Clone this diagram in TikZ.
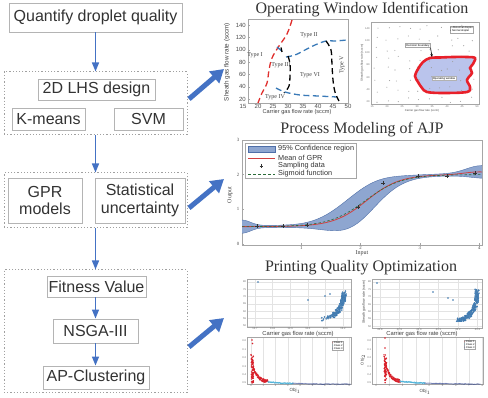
\documentclass[tikz,border=0pt]{standalone}
\usepackage{fontspec}
\setmainfont{Liberation Sans}
\newfontfamily\seriffont{Liberation Serif}
\usetikzlibrary{arrows.meta}
\definecolor{arrowblue}{HTML}{4472C4}
\definecolor{boxgray}{HTML}{B4B4B4}
\definecolor{dotgray}{HTML}{A0A0A0}
\definecolor{txt}{HTML}{333333}
\definecolor{curvered}{HTML}{E0302E}
\definecolor{curveblue}{HTML}{3A7AB8}
\definecolor{bandfill}{HTML}{8EA6D0}
\definecolor{bandline}{HTML}{4F6FA8}
\definecolor{blobfill}{HTML}{BAC4EC}
\definecolor{blobred}{HTML}{E8202A}
\definecolor{scatblue}{HTML}{2B6CA8}
\definecolor{cyanpt}{HTML}{4FB3D9}
\definecolor{navypt}{HTML}{2B3F8C}
\definecolor{redpt}{HTML}{D9202A}
\definecolor{meanred}{HTML}{D04040}
\definecolor{sigreen}{HTML}{3C9A50}
\begin{document}
\begin{tikzpicture}[x=1pt,y=-1pt,
  box/.style={draw=boxgray, line width=0.9pt, fill=white, inner sep=0pt, align=center,
    font=\fontsize{16}{17.5}\selectfont, text=txt},
  grp/.style={draw=dotgray, line width=1pt, dash pattern=on 1.2pt off 2pt, inner sep=0pt},
  flow/.style={draw=arrowblue, line width=1.3pt, -{Triangle[length=9pt,width=7pt]}},
  bigarrow/.style={draw=arrowblue, line width=5pt, -{Triangle[length=13pt,width=15pt]}},
  title/.style={font=\seriffont\fontsize{16}{18}\selectfont, text=txt},
  tick/.style={font=\fontsize{6}{6}\selectfont, text=black!70, inner sep=0.5pt},
  stick/.style={font=\seriffont\fontsize{4.8}{5}\selectfont, text=black!70, inner sep=0.5pt},
  tiny/.style={font=\fontsize{2.6}{3}\selectfont, text=black!60, inner sep=0.3pt},
  dashcurve/.style={line width=1.3pt, dash pattern=on 6pt off 3.5pt},
  typelbl/.style={font=\seriffont\fontsize{6}{6}\selectfont, text=black!75, inner sep=0pt},
  frame/.style={draw=gray!70, line width=0.4pt},
  grid4/.style={draw=gray!22, line width=0.3pt},
  declare function={
    gm(\x)=0.5+1.5/(1+exp(-3.6*(\x-2.1)))+0.08*exp(-((\x-4)/0.35)*((\x-4)/0.35));
    gw(\x)=0.03+0.16*exp(-(\x/0.2)*(\x/0.2))+0.42*exp(-((\x-1.95)/0.6)*((\x-1.95)/0.6))+0.15*exp(-((\x-4.05)/0.35)*((\x-4.05)/0.35));
    gs(\x)=0.5+1.5/(1+exp(-3.3*(\x-2.08)));
    px(\x)=242+59.3*\x;
    py(\x)=244-34.7*\x;
  }]
\useasboundingbox (0,0) rectangle (488,398);
\fill[white] (0,0) rectangle (488,398);

%% ---------------- left flow ----------------
\node[grp, minimum width=183pt, minimum height=63pt] (g1) at (95.5,103.5) {};
\node[grp, minimum width=183pt, minimum height=55pt] (g2) at (95.5,200.5) {};
\node[grp, minimum width=183pt, minimum height=123pt] (g3) at (95.5,331.5) {};

\node[box, minimum width=173pt, minimum height=29pt] (q) at (95.5,17.5) {Quantify droplet quality};
\node[box, minimum width=117pt, minimum height=21pt] (lhs) at (96.5,89.5) {2D LHS design};
\node[box, minimum width=73pt, minimum height=22pt] (km) at (48.5,119) {K-means};
\node[box, minimum width=69pt, minimum height=22pt] (svm) at (148.5,119) {SVM};
\node[box, minimum width=74pt, minimum height=45pt] (gpr) at (45,200.5) {GPR\\models};
\node[box, minimum width=90pt, minimum height=45pt] (stat) at (140,200.5) {Statistical\\uncertainty};
\node[box, minimum width=99pt, minimum height=21pt] (fit) at (96.5,286.5) {Fitness Value};
\node[box, minimum width=85pt, minimum height=24pt] (nsga) at (95.5,331) {NSGA-III};
\node[box, minimum width=106pt, minimum height=23pt] (ap) at (96,377.5) {AP-Clustering};

\draw[flow] (q.south) -- (g1.north);
\draw[flow] (g1.south) -- (g2.north);
\draw[flow] (g2.south) -- (g3.north);
\draw[flow] (fit.south -| nsga.north) -- (nsga.north);
\draw[flow] (nsga.south) -- (nsga.south |- ap.north);

\coordinate (a1s) at (189,99);  \coordinate (a1e) at (224,69);
\coordinate (a2s) at (189,208); \coordinate (a2e) at (224,179);
\coordinate (a3s) at (189,347); \coordinate (a3e) at (224,318);
\draw[bigarrow] (a1s) -- (a1e);
\draw[bigarrow] (a2s) -- (a2e);
\draw[bigarrow] (a3s) -- (a3e);

%% ---------------- titles ----------------
\node[title] (t1) at (362,10) {Operating Window Identification};
\node[title] (t2) at (362,130) {Process Modeling of AJP};
\node[title] (t3) at (361,268) {Printing Quality Optimization};

%% ---------------- plot 1 ----------------
\draw[frame] (248,19) rectangle (348,103);
\foreach \v in {20,40,...,140}{
  \draw[gray!70, line width=0.3pt] (248,{99-(\v-20)*0.6167}) -- (249.5,{99-(\v-20)*0.6167});
  \node[tick, anchor=east] at (246.5,{99-(\v-20)*0.6167}) {\v};}
\foreach \v in {15,20,...,50}{
  \node[tick, anchor=north] at ({258+(\v-20)*3},103.5) {\v};}
\node[font=\fontsize{5.6}{6}\selectfont, text=black!75] at (297,112.5) {Carrier gas flow rate (sccm)};
\node[font=\fontsize{6.3}{6.5}\selectfont, text=black!75, rotate=90] at (227,62) {Sheath gas flow rate (sccm)};

\draw[curvered, dashcurve] plot[smooth, tension=0.6] coordinates {(292,20) (287,34) (279,46) (272,58) (269,70) (267,83) (262,93) (258,103)};
\draw[curveblue, dashcurve] (277,47) -- (283,52);
\draw[black, line width=1.3pt] (281,47.5) -- (282,52);
\draw[curveblue, dashcurve] plot[smooth, tension=0.6] coordinates {(286,57) (295,55) (305,50) (315,45) (326,41) (335,41) (347,40)};
\draw[black, dashcurve] plot[smooth, tension=0.6] coordinates {(288,56) (290,64) (290,75) (289,86) (284,93)};
\draw[curveblue, dashcurve] plot[smooth, tension=0.6] coordinates {(276,88) (285,92) (300,95) (318,96) (337,97)};
\draw[black, dashcurve] plot[smooth, tension=0.6] coordinates {(326,41) (331,50) (332,65) (333,80) (335,92) (339,101)};
\node[typelbl] at (255,55) {Type I};
\node[typelbl] at (309,35) {Type II};
\node[typelbl] at (281,65) {Type III};
\node[typelbl] at (310,75) {Type VI};
\node[typelbl] at (275,97) {Type IV};
\node[typelbl, rotate=90] at (342,65) {Type V};

%% ---------------- plot 2 ----------------
\draw[frame] (371,22) rectangle (479,104);
\foreach \v [count=\k from 0] in {20,40,...,140}{
  \node[tiny, anchor=east] at (370,{102-\k*12.3}) {\v};}
\foreach \v [count=\k from 0] in {15,20,...,50}{
  \node[tiny, anchor=north] at ({372+\k*15},105) {\v};}
\node[font=\fontsize{2.8}{3}\selectfont, text=black!70] at (422,111) {Carrier gas flow rate (sccm)};
\node[font=\fontsize{3}{3}\selectfont, text=black!70, rotate=90] at (362,63) {Sheath gas flow rate (sccm)};
\fill[blobfill] plot[smooth cycle, tension=0.55] coordinates {(430,58) (440,57.5) (453,57) (467,57) (475,58) (473,64) (470,68) (472,73) (467,80) (470,87) (467,92) (443,93) (427,92) (422,88) (418,82) (415,76) (418,69) (423,62)};
\pgfmathsetseed{11}
\foreach \i in {0,...,9}{
  \foreach \j in {0,...,7}{
    \pgfmathsetmacro\dx{376+\i*10.6+3*rand}
    \pgfmathsetmacro\dy{28+\j*10.3+3*rand}
    \fill[gray!75] (\dx,\dy) circle (0.55pt);}}
\draw[blobred, line width=2.6pt] plot[smooth cycle, tension=0.55] coordinates {(430,58) (440,57.5) (453,57) (467,57) (475,58) (473,64) (470,68) (472,73) (467,80) (470,87) (467,92) (443,93) (427,92) (422,88) (418,82) (415,76) (418,69) (423,62)};
\node[draw=gray!70, fill=white, line width=0.3pt, font=\fontsize{2.6}{3}\selectfont, inner sep=0.6pt, align=left] (leg2) at (461.5,29.5) {+ Abnormal droplet\\\textbullet{} Normal droplet};
\node[draw=gray!70, fill=white, line width=0.3pt, font=\fontsize{2.8}{3}\selectfont, inner sep=0.8pt] (bnd) at (418,45.5) {Decision boundary};
\node[draw=gray!60, fill=white, line width=0.3pt, font=\fontsize{2.8}{3}\selectfont, inner sep=0.8pt] (opw) at (444,78.5) {Operating window};
\coordinate (bndtip) at (432,57);
\draw[black, line width=0.6pt, -{Stealth[length=3pt,width=2.5pt]}] (bnd.south east) -- (bndtip);

%% ---------------- plot 3 ----------------
\draw[frame] (242,140) rectangle (482,245);
\foreach \v in {0,1,2,3}{
  \draw[gray!70, line width=0.3pt] (242,{py(\v)}) -- (244,{py(\v)});
  \node[stick, anchor=east] at (240,{py(\v)}) {\v};}
\foreach \v in {1,2,3,4}{
  \draw[gray!70, line width=0.3pt] ({px(\v)},245) -- ({px(\v)},243);
  \node[stick, anchor=north] at ({px(\v)},245.5) {\v};}
\node[font=\seriffont\fontsize{6}{6}\selectfont, text=black!75] at (362,253) {Input};
\node[font=\seriffont\fontsize{6}{6}\selectfont, text=black!75, rotate=90] at (230,195) {Output};
\fill[bandfill] plot[domain=0:4.05, samples=90] ({px(\x)},{py(gm(\x)+gw(\x))}) -- plot[domain=4.05:0, samples=90] ({px(\x)},{py(gm(\x)-gw(\x))}) -- cycle;
\draw[bandline, line width=0.4pt] plot[domain=0:4.05, samples=90] ({px(\x)},{py(gm(\x)+gw(\x))});
\draw[bandline, line width=0.4pt] plot[domain=0:4.05, samples=90] ({px(\x)},{py(gm(\x)-gw(\x))});
\draw[meanred, line width=0.8pt] plot[domain=0:4.05, samples=90] ({px(\x)},{py(gm(\x))});
\draw[sigreen!70!black, line width=0.6pt, dash pattern=on 2.5pt off 2pt] plot[domain=0:4.05, samples=90] ({px(\x)},{py(gs(\x))});
\foreach \a/\b in {0.25/0.52, 0.69/0.52, 1.10/0.55, 1.96/1.07, 2.38/1.76, 2.97/1.96, 3.46/1.96, 3.93/2.05}{
  \draw[black!80, line width=0.5pt] ({px(\a)-1.8},{py(\b)}) -- ({px(\a)+1.8},{py(\b)})
    ({px(\a)},{py(\b)-1.8}) -- ({px(\a)},{py(\b)+1.8});}
\draw[gray!70, fill=white, line width=0.4pt] (245,143) rectangle (356,178);
\draw[bandline, fill=bandfill, line width=0.4pt] (248,146) rectangle (275,152);
\draw[meanred, line width=0.8pt] (248,158) -- (275,158);
\draw[black!80, line width=0.5pt] (259.7,166) -- (263.3,166) (261.5,164.2) -- (261.5,167.8);
\draw[sigreen!70!black, line width=0.6pt, dash pattern=on 3pt off 2pt] (248,174) -- (275,174);
\foreach \yy/\tt in {149/95\% Confidence region, 158/Mean of GPR, 166/Sampling data, 174/Sigmoid function}{
  \node[font=\fontsize{7.3}{7.5}\selectfont, text=txt, anchor=west, inner sep=0pt] at (278,\yy) {\tt};}

%% ---------------- plot 4: top-left scatter ----------------
\foreach \k in {0,...,5}{\draw[grid4] ({255+\k*17.6},279) -- ({255+\k*17.6},327);}
\foreach \k in {0,...,6}{\draw[grid4] (247,{282+\k*7.3}) -- (351,{282+\k*7.3});}
\draw[frame] (247,279) rectangle (351,327);
\foreach \v [count=\k from 0] in {80,75,70,65,60,55,50}{\node[tiny, anchor=east] at (246.5,{282+\k*7.3}) {\v};}
\foreach \v [count=\k from 0] in {12.7,12.8,12.9,13.0,13.1,13.2}{\node[tiny, anchor=north] at ({255+\k*17.6},327.5) {\v};}
\node[font=\fontsize{5.8}{6}\selectfont, text=black!75] at (298,334) {Carrier gas flow rate (sccm)};
\pgfmathsetseed{7}
\foreach \i in {1,...,240}{
  \pgfmathsetmacro\tt{sqrt(rnd)}
  \pgfmathsetmacro\ax{321+23*sin(90*\tt)+2.2*rand}
  \pgfmathsetmacro\ay{293+26*cos(90*\tt)+2*rand}
  \draw[scatblue, line width=0.2pt, fill=scatblue!55] (\ax,\ay) circle (0.7pt);}
\foreach \ax/\ay in {258/282, 308/300, 330/294, 325/296}{\draw[scatblue, line width=0.2pt, fill=scatblue!45] (\ax,\ay) circle (0.7pt);}

%% ---------------- plot 4: top-right scatter ----------------
\foreach \k in {0,...,5}{\draw[grid4] ({380+\k*19.5},279) -- ({380+\k*19.5},328);}
\foreach \k in {0,...,6}{\draw[grid4] (372,{282+\k*7.4}) -- (482,{282+\k*7.4});}
\draw[frame] (372,279) rectangle (482,328);
\foreach \v [count=\k from 0] in {80,75,70,65,60,55,50}{\node[tiny, anchor=east] at (371.5,{282+\k*7.4}) {\v};}
\foreach \v [count=\k from 0] in {42.8,42.9,43.0,43.1,43.2,43.3}{\node[tiny, anchor=north] at ({380+\k*19.5},328.5) {\v};}
\node[font=\fontsize{5.8}{6}\selectfont, text=black!75] at (422,334) {Carrier gas flow rate (sccm)};
\node[font=\fontsize{3.5}{4}\selectfont, text=black!75, rotate=90] at (364,302) {Sheath gas flow rate (sccm)};
\pgfmathsetseed{5}
\foreach \i in {1,...,260}{
  \pgfmathsetmacro\tt{rnd}
  \pgfmathsetmacro\bx{458+19*sin(100*\tt)+2*rand}
  \pgfmathsetmacro\by{294+26*cos(100*\tt)+1.8*rand}
  \draw[scatblue, line width=0.2pt, fill=scatblue!55] (\bx,\by) circle (0.7pt);}
\foreach \bx/\by in {377/283, 433/292, 448/298, 453/300}{\draw[scatblue, line width=0.2pt, fill=scatblue!45] (\bx,\by) circle (0.7pt);}

%% ---------------- plot 4: bottom-left ----------------
\foreach \k in {0,...,8}{\draw[grid4] ({251+\k*12.3},337) -- ({251+\k*12.3},384);}
\draw[frame] (247,337) rectangle (351,384);
\foreach \v [count=\k from 0] in {0,1,2,3,4,5,6,7,8}{\node[tiny, anchor=north] at ({251+\k*12.3},384.5) {\v};}
\foreach \k in {0,...,5}{\node[tiny, anchor=east] at (246.5,{341+\k*8.4}) {0.\k};}
\node[font=\fontsize{4.5}{5}\selectfont, text=black!75] at (295,391) {Obj$_1$};
\pgfmathsetseed{3}
\foreach \i in {1,...,60}{
  \pgfmathsetmacro\cx{251.3+2.2*rnd}
  \pgfmathsetmacro\cy{355+28*rnd}
  \fill[redpt] (\cx,\cy) circle (0.8pt);}
\fill[redpt] (252,340) circle (0.8pt) (252.5,343.5) circle (0.8pt);
\foreach \i in {0,...,80}{
  \pgfmathsetmacro\cx{251+\i*0.21}
  \pgfmathsetmacro\cy{384.5-24*exp(-(\cx-251)/4)-5*exp(-(\cx-251)/25)+1.6*rand}
  \fill[redpt] (\cx,\cy) circle (0.8pt);}
\foreach \i in {0,...,50}{
  \pgfmathsetmacro\cx{268+\i*0.5}
  \pgfmathsetmacro\cy{384.5-24*exp(-(\cx-251)/4)-5*exp(-(\cx-251)/25)+0.5*rand}
  \fill[cyanpt] (\cx,\cy) circle (0.65pt);}
\foreach \i in {0,...,57}{
  \pgfmathsetmacro\cx{293+\i*1}
  \pgfmathsetmacro\cy{384.3-5*exp(-(\cx-251)/25)+0.3*rand}
  \fill[navypt] (\cx,\cy) circle (0.55pt);}
\node[draw=gray!70, fill=white, line width=0.3pt, font=\fontsize{2.6}{3}\selectfont, inner sep=0.6pt, align=left] (leg3) at (337.5,345.5) {{\color{redpt}\textbullet} Class 1\\{\color{cyanpt}\textbullet} Class 2\\{\color{navypt}\textbullet} Class 3};

%% ---------------- plot 4: bottom-right ----------------
\foreach \k in {0,...,8}{\draw[grid4] ({376+\k*13.3},337) -- ({376+\k*13.3},384);}
\draw[frame] (372,337) rectangle (483,384);
\foreach \v [count=\k from 0] in {0,1,2,3,4,5,6,7,8}{\node[tiny, anchor=north] at ({376+\k*13.3},384.5) {\v};}
\foreach \k in {0,...,5}{\node[tiny, anchor=east] at (371.5,{341+\k*8.4}) {0.\k};}
\node[font=\fontsize{4.5}{5}\selectfont, text=black!75] at (425,392) {Obj$_1$};
\node[font=\fontsize{4}{5}\selectfont, text=black!75, rotate=90] at (363,360) {Obj$_2$};
\pgfmathsetseed{9}
\foreach \i in {1,...,60}{
  \pgfmathsetmacro\cx{384.3+2.2*rnd}
  \pgfmathsetmacro\cy{358+25*rnd}
  \fill[redpt] (\cx,\cy) circle (0.8pt);}
\fill[redpt] (385,338) circle (0.8pt) (385,348) circle (0.8pt) (385.3,355) circle (0.8pt);
\foreach \i in {0,...,80}{
  \pgfmathsetmacro\cx{384+\i*0.2}
  \pgfmathsetmacro\cy{384.5-24*exp(-(\cx-384)/4)-5*exp(-(\cx-384)/30)+1.6*rand}
  \fill[redpt] (\cx,\cy) circle (0.8pt);}
\foreach \i in {0,...,50}{
  \pgfmathsetmacro\cx{400+\i*0.5}
  \pgfmathsetmacro\cy{384.5-24*exp(-(\cx-384)/4)-5*exp(-(\cx-384)/30)+0.5*rand}
  \fill[cyanpt] (\cx,\cy) circle (0.65pt);}
\foreach \i in {0,...,55}{
  \pgfmathsetmacro\cx{425+\i*1}
  \pgfmathsetmacro\cy{384.3-5*exp(-(\cx-384)/30)+0.3*rand}
  \fill[navypt] (\cx,\cy) circle (0.55pt);}
\node[draw=gray!70, fill=white, line width=0.3pt, font=\fontsize{2.6}{3}\selectfont, inner sep=0.6pt, align=left] (leg4) at (469.5,344.5) {{\color{redpt}\textbullet} Class 1\\{\color{cyanpt}\textbullet} Class 2\\{\color{navypt}\textbullet} Class 3};
\end{tikzpicture}
\end{document}
